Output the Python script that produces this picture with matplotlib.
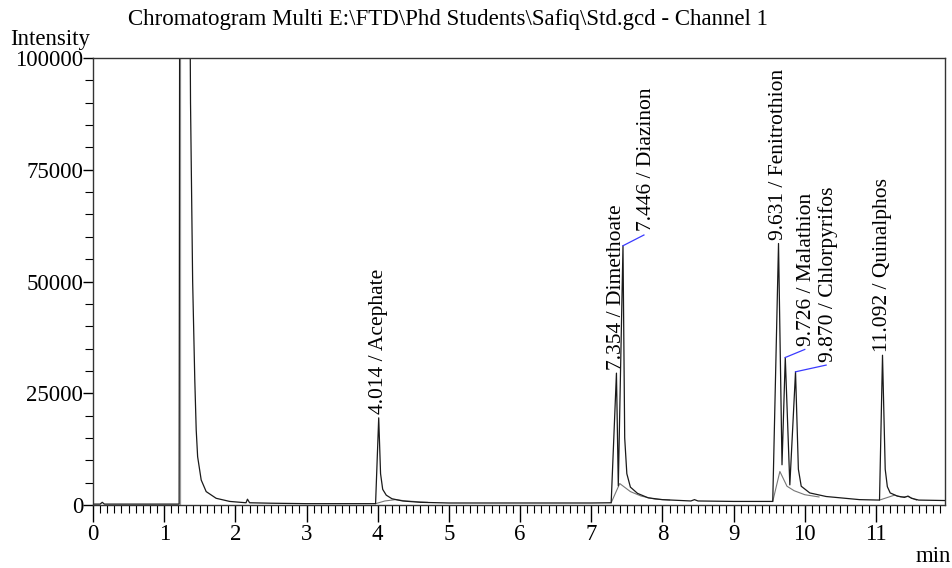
import numpy as np
import matplotlib
matplotlib.use('Agg')
import matplotlib.pyplot as plt
from matplotlib.ticker import MultipleLocator

# chromatogram trace (min, intensity)
traceTime = [0.00, 0.10, 0.13, 0.16, 0.50, 1.00, 1.21, 1.22, 1.35, 1.37, 1.40, 1.43, 1.45, 1.47,
             1.52, 1.59, 1.73, 1.92, 2.15, 2.17, 2.20, 2.50, 3.00, 3.50, 3.97, 4.014, 4.04, 4.07,
             4.12, 4.20, 4.35, 4.60, 5.00, 6.00, 7.00, 7.28, 7.354, 7.38, 7.446, 7.47, 7.50, 7.55,
             7.65, 7.80, 8.00, 8.40, 8.45, 8.50, 9.00, 9.55, 9.631, 9.68, 9.726, 9.79, 9.870, 9.91,
             9.95, 10.07, 10.30, 10.77, 11.05, 11.092, 11.13, 11.16, 11.20, 11.30, 11.40, 11.45,
             11.50, 11.60, 11.97]
traceIntensity = [200, 200, 600, 200, 200, 200, 200, 150000, 150000, 90000, 50000, 28000, 16800, 10800,
                  5600, 3000, 1500, 800, 500, 1300, 500, 400, 300, 300, 300, 19500, 7000, 3500,
                  2200, 1400, 900, 600, 450, 450, 450, 500, 29500, 4300, 58000, 15000, 7000, 4000,
                  2600, 1600, 1200, 900, 1200, 900, 800, 800, 58500, 9000, 33000, 4500, 29800, 8000,
                  4200, 2700, 1900, 1200, 1100, 33500, 8000, 4100, 2700, 2000, 1700, 2000,
                  1500, 1100, 1000]

# integration baseline humps under the peaks (nan = gap)
baseTime = [3.97, 4.10, 4.25, 4.40, 4.70, np.nan,
            7.28, 7.40, 7.55, 7.70, 7.90, 8.10, np.nan,
            9.55, 9.65, 9.75, 9.85, 10.00, 10.20, np.nan,
            11.05, 11.26, 11.35, 11.45, 11.57]
baseIntensity = [300, 900, 1200, 900, 600, np.nan,
                 500, 4800, 3000, 2000, 1300, 1100, np.nan,
                 800, 7500, 4200, 3200, 2300, 1800, np.nan,
                 1100, 2200, 1800, 1900, 1100]

peakRT = [4.014, 7.354, 7.446, 9.631, 9.726, 9.870, 11.092]
peakHeight = [19500, 29500, 58000, 58500, 33000, 29800, 33500]
peakName = ['Acephate', 'Dimethoate', 'Diazinon', 'Fenitrothion', 'Malathion', 'Chlorpyrifos', 'Quinalphos']

plt.rcParams['font.family'] = ['Liberation Serif', 'DejaVu Serif']

fig = plt.figure(figsize=(9.52, 5.68), dpi=100)
axis = fig.add_axes([93/952, 63/568, 852/952, 447/568])

# solvent front marker drawn by the software
axis.axvline(1.22, color='#999999', lw=0.9)
axis.plot(baseTime, baseIntensity, color='#777777', lw=0.8)
axis.plot(traceTime, traceIntensity, color='#1a1a1a', lw=0.9)

# label offsets for the crowded peaks (leader line end, in data units)
shifted = {'Diazinon': (7.74, 60400), 'Malathion': (10.0, 34800), 'Chlorpyrifos': (10.30, 31300)}

for rt, h, name in zip(peakRT, peakHeight, peakName):
    text = f'{rt:.3f} / {name}'
    if name in shifted:
        lx, ly = shifted[name]
        axis.plot([rt, lx], [h, ly], color='#3a3aff', lw=0.9)
        axis.text(lx + 0.03, ly + 800, text, rotation=90, ha='center', va='bottom', fontsize=15.5)
    else:
        axis.text(rt, h + 800, text, rotation=90, ha='center', va='bottom', fontsize=15.5)

axis.set_xlim(0, 11.97)
axis.set_ylim(0, 100000)
axis.xaxis.set_major_locator(MultipleLocator(1))
axis.xaxis.set_minor_locator(MultipleLocator(0.1))
axis.yaxis.set_major_locator(MultipleLocator(25000))
axis.yaxis.set_minor_locator(MultipleLocator(5000))
axis.tick_params(axis='x', which='major', direction='out', length=12, width=1, labelsize=16.5, pad=2)
axis.tick_params(axis='x', which='minor', direction='out', length=6, width=0.8)
axis.tick_params(axis='y', which='major', direction='out', length=7, width=1, labelsize=16.5, pad=0)
axis.tick_params(axis='y', which='minor', direction='out', length=6, width=0.8)
for spine in axis.spines.values():
    spine.set_color('#333333')
    spine.set_linewidth(1)

fig.text(448/952, 1 - 19/568, r'Chromatogram Multi E:\FTD\Phd Students\Safiq\Std.gcd - Channel 1',
         ha='center', va='center', fontsize=16.5)
fig.text(10/952, 1 - 40/568, 'Intensity', ha='left', va='center', fontsize=16.5)
fig.text(951/952, 1 - 557/568, 'min', ha='right', va='center', fontsize=16.5)

fig.savefig('out.png', dpi=100)
plt.close(fig)
